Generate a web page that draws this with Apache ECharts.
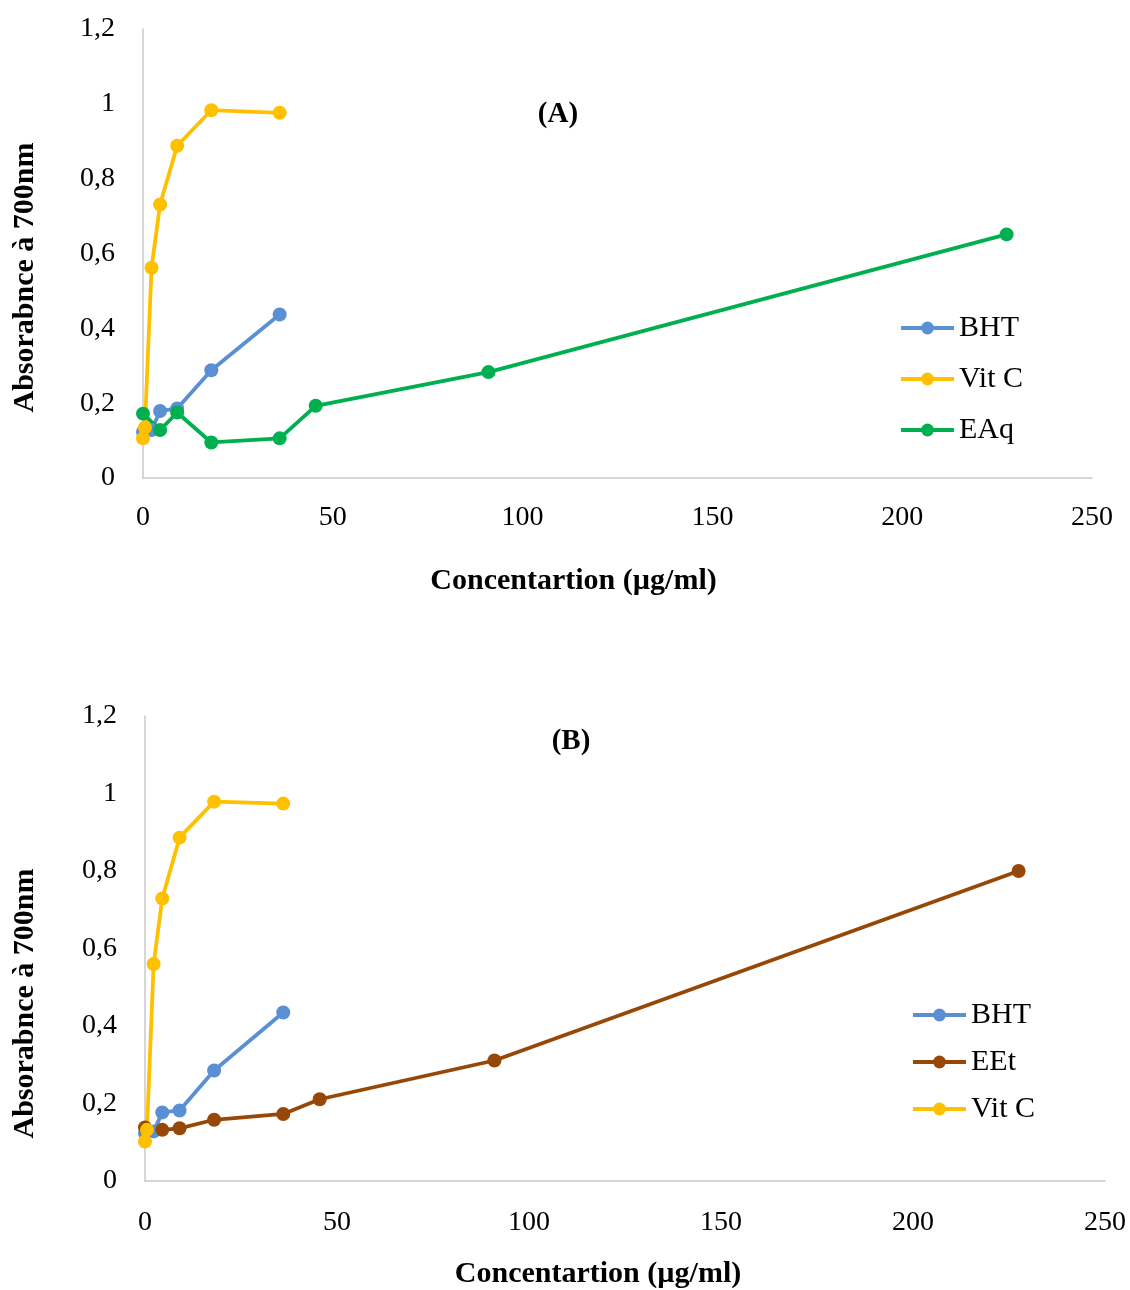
<!DOCTYPE html>
<html><head><meta charset="utf-8">
<script src="https://cdn.jsdelivr.net/npm/echarts@6/dist/echarts.min.js"></script>
<style>html,body{margin:0;padding:0;background:#fff}#c{width:1130px;height:1290px}</style>
</head><body><div id="c"></div>
<script>
// Chart A data
const bhtX_A = [0, 2.25, 4.5, 9, 18, 36];
const bhtY_A = [0.123, 0.128, 0.179, 0.186, 0.288, 0.437];
const vitcX_A = [0, 0.5, 2.25, 4.5, 9, 18, 36];
const vitcY_A = [0.106, 0.135, 0.562, 0.731, 0.888, 0.983, 0.976];
const eaqX = [0, 4.5, 9, 18, 36, 45.5, 91, 227.5];
const eaqY = [0.172, 0.128, 0.175, 0.095, 0.106, 0.193, 0.283, 0.651];
// Chart B data
const bhtX_B = [0, 2.25, 4.5, 9, 18, 36];
const bhtY_B = [0.123, 0.128, 0.177, 0.182, 0.285, 0.435];
const eetX = [0, 4.5, 9, 18, 36, 45.5, 91, 227.5];
const eetY = [0.138, 0.132, 0.136, 0.158, 0.173, 0.211, 0.311, 0.800];
const vitcX_B = [0, 0.5, 2.25, 4.5, 9, 18, 36];
const vitcY_B = [0.102, 0.132, 0.560, 0.729, 0.886, 0.979, 0.974];
const yTicks = [0, 0.2, 0.4, 0.6, 0.8, 1, 1.2];

const pairs = (xs, ys) => xs.map((x, i) => [x, ys[i]]);
const FONT = 'Liberation Serif';
const C = {bht: '#5B8FD4', vitc: '#FFC000', eaq: '#00B050', eet: '#974706'};

function xAxis(idx, gap, shiftLeft, margin) {
  return {
    gridIndex: idx, type: 'value', min: 0, max: 250, interval: 50,
    name: 'Concentartion (µg/ml)', nameLocation: 'middle', nameGap: gap,
    nameTextStyle: {fontFamily: FONT, fontSize: 30, fontWeight: 'bold', color: '#000',
      padding: [0, shiftLeft * 2, 0, 0]},
    axisLine: {show: true, lineStyle: {color: '#C8C8C8', width: 1.5}},
    axisTick: {show: false}, splitLine: {show: false},
    axisLabel: {fontFamily: FONT, fontSize: 28, color: '#000', margin: margin}
  };
}
function yAxis(idx, gap, shiftDown) {
  return {
    gridIndex: idx, type: 'value', min: 0, max: 1.2, interval: 0.2,
    name: 'Absorabnce à 700nm', nameLocation: 'middle', nameGap: gap, nameRotate: 90,
    nameTextStyle: {fontFamily: FONT, fontSize: 30, fontWeight: 'bold', color: '#000',
      padding: [0, shiftDown * 2, 0, 0]},
    axisLine: {show: true, lineStyle: {color: '#C8C8C8', width: 1.5}},
    axisTick: {show: false}, splitLine: {show: false},
    axisLabel: {fontFamily: FONT, fontSize: 28, color: '#000', margin: 28,
      formatter: v => yTicks.includes(+v.toFixed(1)) ? String(+v.toFixed(1)).replace('.', ',') : ''}
  };
}
function line(name, data, color, idx) {
  return {
    name: name, type: 'line', xAxisIndex: idx, yAxisIndex: idx, data: data,
    symbol: 'circle', symbolSize: 14, showSymbol: true,
    lineStyle: {color: color, width: 3.8}, itemStyle: {color: color},
    animation: false
  };
}
const legendText = {fontFamily: FONT, fontSize: 30, color: '#000'};
const option = {
  backgroundColor: '#fff',
  animation: false,
  graphic: [
    {type: 'text', x: 558, y: 115, style: {text: '(A)', textAlign: 'center', textVerticalAlign: 'middle',
      font: 'bold 29px "Liberation Serif"', fill: '#000'}},
    {type: 'text', x: 571, y: 742, style: {text: '(B)', textAlign: 'center', textVerticalAlign: 'middle',
      font: 'bold 29px "Liberation Serif"', fill: '#000'}}
  ],
  grid: [
    {left: 143, top: 29, width: 949, height: 449},
    {left: 145, top: 716, width: 960, height: 467}
  ],
  legend: [
    {data: ['BHT', 'Vit C', 'EAq'], orient: 'vertical', left: 899, top: 313, padding: 0,
     itemWidth: 53, itemHeight: 16, itemGap: 21, textStyle: legendText,
     lineStyle: {width: 4}},
    {data: ['BHT', 'EEt', 'Vit C '], orient: 'vertical', left: 911, top: 1000, padding: 0,
     itemWidth: 53, itemHeight: 16, itemGap: 17, textStyle: legendText,
     lineStyle: {width: 4}, formatter: n => n.trim()}
  ],
  xAxis: [xAxis(0, 88, 44, 26), xAxis(1, 78, 27, 28)],
  yAxis: [yAxis(0, 103, 24), yAxis(1, 105, 55)],
  series: [
    line('BHT', pairs(bhtX_A, bhtY_A), C.bht, 0),
    line('Vit C', pairs(vitcX_A, vitcY_A), C.vitc, 0),
    line('EAq', pairs(eaqX, eaqY), C.eaq, 0),
    line('BHT', pairs(bhtX_B, bhtY_B), C.bht, 1),
    line('EEt', pairs(eetX, eetY), C.eet, 1),
    line('Vit C ', pairs(vitcX_B, vitcY_B), C.vitc, 1)
  ]
};
const chart = echarts.init(document.getElementById('c'));
chart.setOption(option);
</script></body></html>
